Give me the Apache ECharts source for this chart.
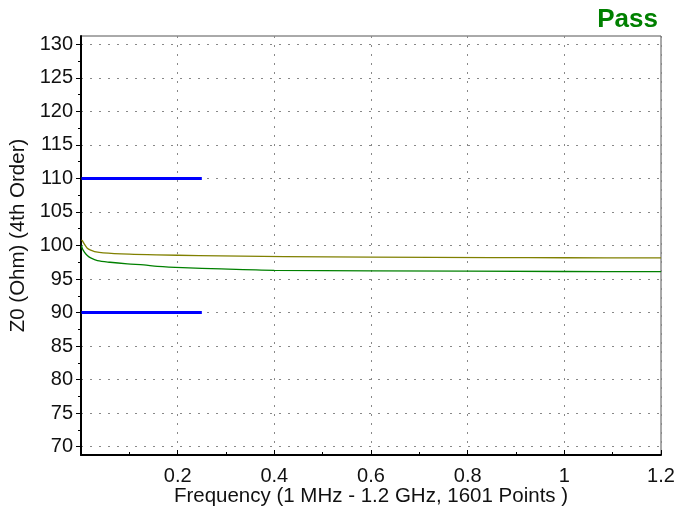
<!DOCTYPE html>
<html>
<head>
<meta charset="utf-8">
<script src="https://cdn.jsdelivr.net/npm/echarts@6/dist/echarts.min.js"></script>
<style>html,body{margin:0;padding:0;background:#fff}#c{width:691px;height:511px}</style>
</head>
<body>
<div id="c"></div>
<script>
// Frequency (GHz) sample points for traces
const freqA = [0.001, 0.003, 0.007, 0.013, 0.02, 0.028, 0.046, 0.1, 0.156, 0.244, 0.42, 0.6, 0.85, 1.0, 1.2];
const z0Olive = [100.8, 100.7, 100.2, 99.6, 99.3, 99.1, 98.9, 98.7, 98.6, 98.5, 98.35, 98.28, 98.2, 98.17, 98.15];
const freqB = [0.001, 0.003, 0.007, 0.013, 0.02, 0.034, 0.06, 0.096, 0.13, 0.158, 0.21, 0.29, 0.4, 0.6, 1.0, 1.2];
const z0Green = [100.0, 99.5, 99.0, 98.5, 98.15, 97.75, 97.5, 97.26, 97.1, 96.9, 96.7, 96.5, 96.3, 96.22, 96.12, 96.1];
// Limit lines
const limitFreq = [0.001, 0.25];
const upperLimit = [110, 110];
const lowerLimit = [90, 90];
// Axis ticks
const yMajorTicks = [70, 75, 80, 85, 90, 95, 100, 105, 110, 115, 120, 125, 130];
const yMinorTicks = [72.5, 77.5, 82.5, 87.5, 92.5, 97.5, 102.5, 107.5, 112.5, 117.5, 122.5, 127.5];
const xTickLabels = ['', '0.2', '0.4', '0.6', '0.8', '1', '1.2'];

const zip = (xs, ys) => xs.map((x, i) => [x, ys[i]]);
const FONT = 'Liberation Sans, Arial, sans-serif';
const chart = echarts.init(document.getElementById('c'), null, {renderer: 'canvas'});
const yBase = {
  type: 'value', min: 68.75, max: 131.25, position: 'left'
};
chart.setOption({
  animation: false,
  backgroundColor: '#fff',
  title: {
    text: 'Pass', right: 28, top: 2,
    textStyle: {color: '#008000', fontSize: 26, fontWeight: 'bold', fontFamily: FONT}
  },
  grid: {left: 81, right: 30, top: 36, bottom: 56, show: true, borderColor: '#555', borderWidth: 1,
         containLabel: false, outerBoundsMode: 'none'},
  xAxis: {
    type: 'value', min: 0, max: 1.2, interval: 0.2,
    name: 'Frequency (1 MHz - 1.2 GHz, 1601 Points )', nameLocation: 'middle', nameGap: 30.5,
    nameMoveOverlap: false,
    nameTextStyle: {fontSize: 20.5, color: '#111', fontFamily: FONT},
    axisLine: {show: true, onZero: false, lineStyle: {color: '#000', width: 2}},
    axisTick: {show: true, inside: true, length: 5, lineStyle: {color: '#000'}},
    minorTick: {show: true, splitNumber: 2, length: 3, lineStyle: {color: '#000'}},
    axisLabel: {
      margin: 11, fontSize: 20, color: '#111', fontFamily: FONT,
      formatter: (v) => xTickLabels[Math.round(v / 0.2)] ?? ''
    },
    splitLine: {show: true, lineStyle: {color: '#888', type: [2, 7], width: 1}}
  },
  yAxis: [
    Object.assign({}, yBase, {
      name: 'Z0 (Ohm) (4th Order)', nameLocation: 'middle', nameGap: 47,
      nameTextStyle: {fontSize: 20.5, color: '#111', fontFamily: FONT, padding: [0, 0, 0, 20]},
      axisLine: {show: true, onZero: false, lineStyle: {color: '#000', width: 2}},
      axisTick: {show: true, length: 5, customValues: yMajorTicks, lineStyle: {color: '#000'}},
      axisLabel: {show: true, margin: 8, fontSize: 20, color: '#111', fontFamily: FONT, customValues: yMajorTicks},
      splitLine: {show: true, lineStyle: {color: '#888', type: [2, 7], width: 1}}
    }),
    Object.assign({}, yBase, {
      axisLine: {show: false},
      axisTick: {show: true, length: 3, customValues: yMinorTicks, lineStyle: {color: '#000'}},
      axisLabel: {show: false},
      splitLine: {show: false}
    })
  ],
  series: [
    {type: 'line', data: zip(limitFreq, upperLimit), showSymbol: false, lineStyle: {color: '#0000ff', width: 3}, z: 5},
    {type: 'line', data: zip(limitFreq, lowerLimit), showSymbol: false, lineStyle: {color: '#0000ff', width: 3}, z: 5},
    {type: 'line', data: zip(freqA, z0Olive), showSymbol: false, smooth: 0.3, lineStyle: {color: '#808000', width: 1.3}},
    {type: 'line', data: zip(freqB, z0Green), showSymbol: false, smooth: 0.3, lineStyle: {color: '#008000', width: 1.3}}
  ]
});
</script>
</body>
</html>
